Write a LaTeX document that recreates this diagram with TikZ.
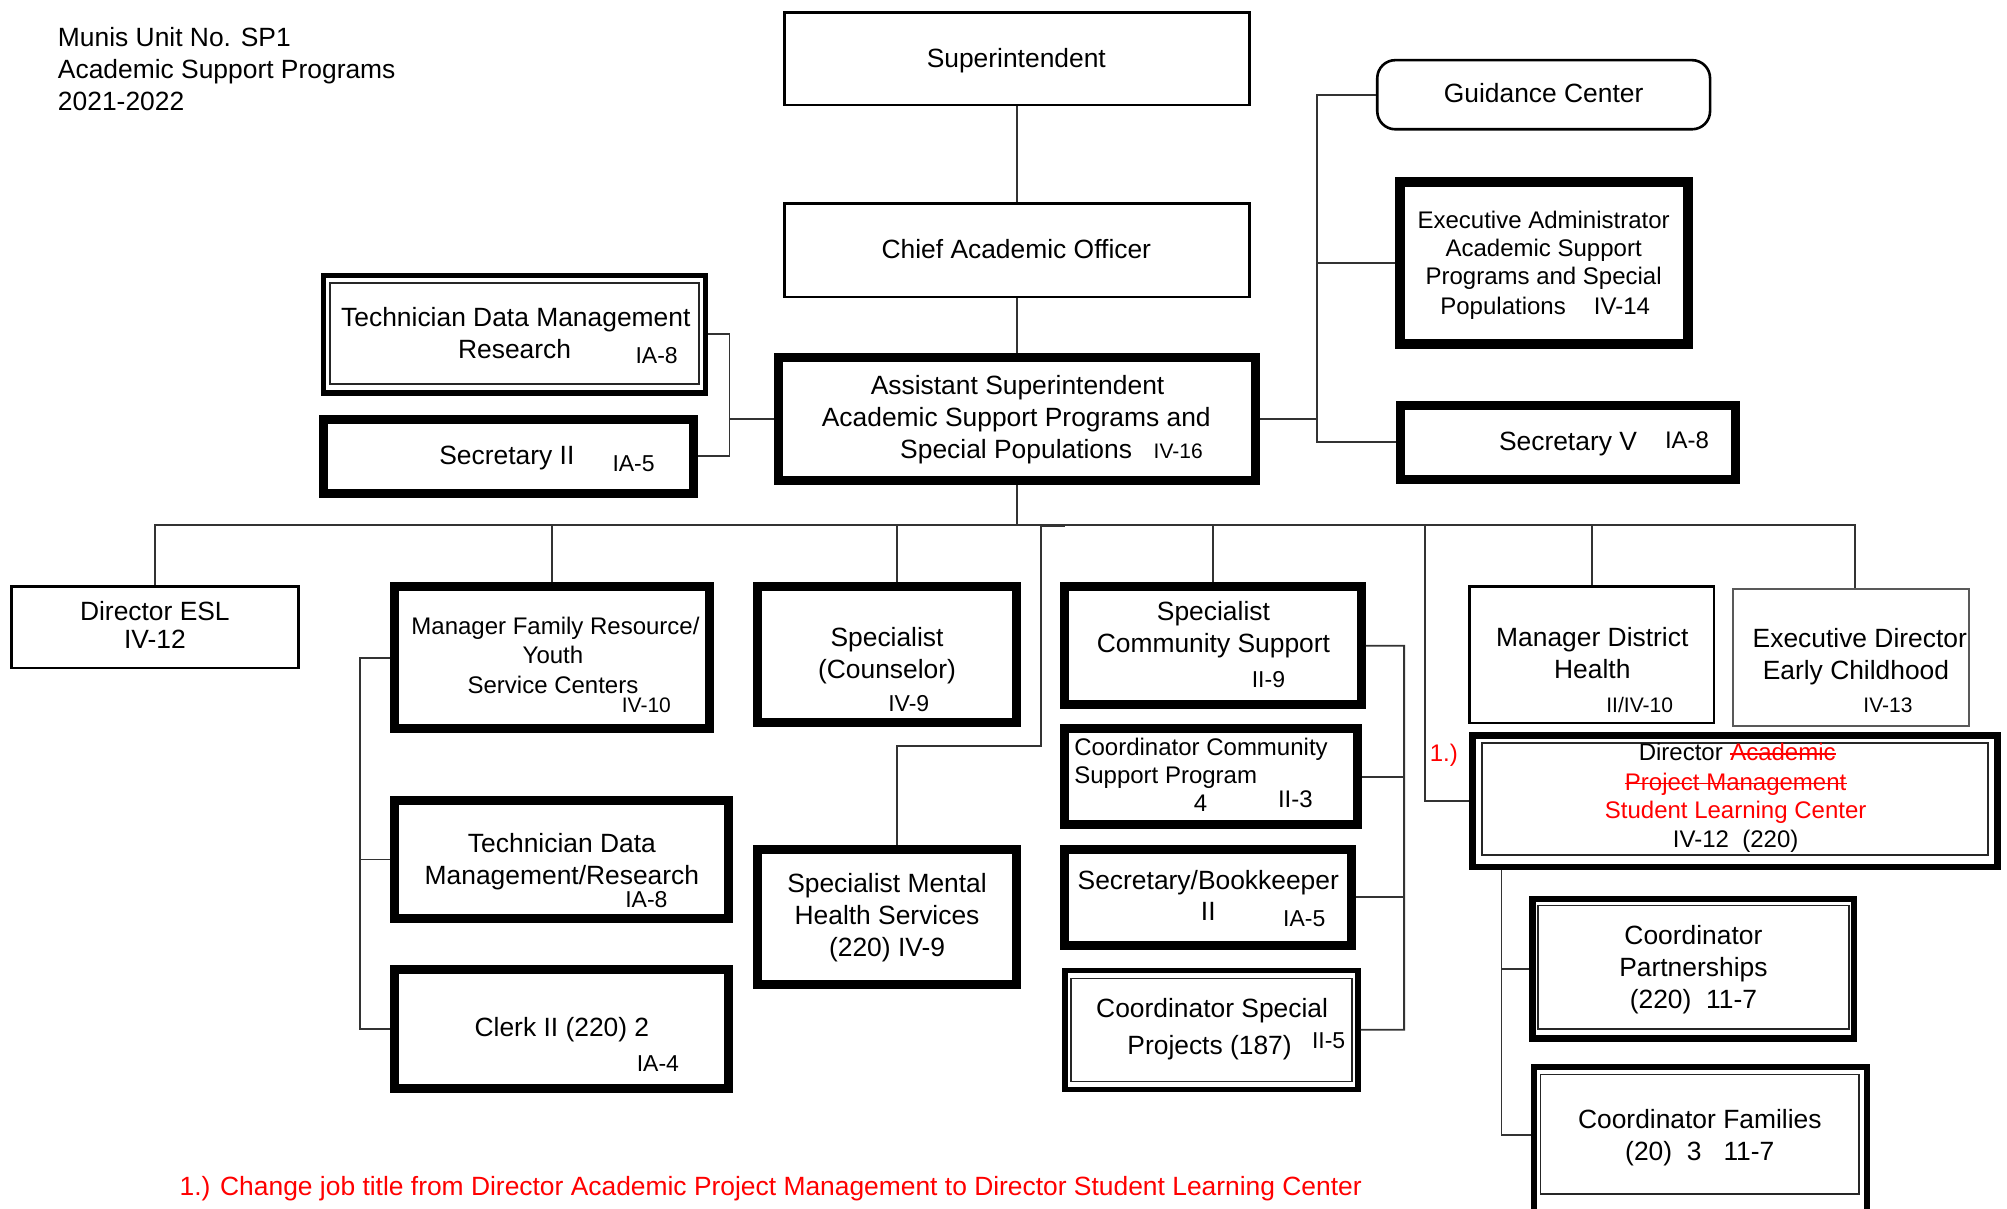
\documentclass[tikz,border=0pt]{standalone}
\usepackage{fontspec}
\setmainfont{Liberation Sans}
\usetikzlibrary{fit,calc}

\tikzset{
  box/.style={draw=black, inner sep=0pt, line width=1.3pt},
  heavy/.style={draw=black, inner sep=0pt, line width=4.5pt},
  heavier/.style={draw=black, inner sep=0pt, line width=5pt},
  midline/.style={draw=black, inner sep=0pt, line width=3.3pt},
  dbl/.style={draw=black, inner sep=0pt, line width=2.6pt},
  innerline/.style={draw=black!85, inner sep=0pt, line width=0.9pt},
  faint/.style={draw=black!65, inner sep=0pt, line width=1pt},
  link/.style={draw=black!80, line width=0.9pt},
  strike/.style={draw=red, line width=0.8pt},
  lbl/.style={anchor=base, inner sep=0pt, font=\fontsize{13.2}{16}\selectfont},
  lbls/.style={anchor=base, inner sep=0pt, font=\fontsize{12}{14}\selectfont},
  grade/.style={anchor=base, inner sep=0pt, font=\fontsize{11.5}{14}\selectfont},
  grades/.style={anchor=base, inner sep=0pt, font=\fontsize{10.5}{12}\selectfont},
  note/.style={text=red},
}
% box from two corner points of its border line
\newcommand\orgbox[6]{\node[#1, fit={(#3,#4) (#5,#6)}] (#2) {};}
% one line of text
\newcommand\say[5]{\node[#1] (#2) at (#3,#4) {#5};}
% line through a text node
\newcommand\strikeout[1]{\draw[strike] ($(#1.base west)+(0,-5.5)$) -- ($(#1.base east)+(0,-5.5)$);}

\begin{document}
\begin{tikzpicture}[x=0.64pt, y=-0.64pt]
\fill[white] (0,0) rectangle (1568,944);
\useasboundingbox (0,0) rectangle (1568,944);

% heading
\say{lbl, anchor=base west}{head1}{45}{36}{Munis Unit No. SP1}
\say{lbl, anchor=base west}{head2}{45}{61}{Academic Support Programs}
\say{lbl, anchor=base west}{head3}{45}{86}{2021-2022}

% ---------- boxes ----------
\orgbox{box}{sup}{613}{10}{976}{82}
\orgbox{box}{cao}{613}{159}{976}{232}
\orgbox{heavy}{asst}{608.5}{279.5}{980.5}{375.5}
\orgbox{dbl}{tdm}{253}{215}{551}{307}
\orgbox{innerline}{tdmIn}{258}{221}{546}{300}
\orgbox{heavy}{secii}{252.5}{327.5}{541.5}{385.5}
\node[box, rounded corners=9pt, fit={(1076,47) (1336,101)}] (guid) {};
\orgbox{heavier}{exa}{1094}{142}{1319}{269}
\orgbox{heavy}{secv}{1094.5}{316.5}{1355.5}{374.5}

\orgbox{box}{esl}{9}{458}{233}{522}
\orgbox{heavy}{mfr}{308.5}{458.5}{554.5}{569.5}
\orgbox{heavy}{cou}{591.5}{458.5}{794.5}{564.5}
\orgbox{heavy}{scs}{831.5}{458.5}{1063.5}{550.5}
\orgbox{box}{mdh}{1148}{458}{1339}{565}
\orgbox{faint}{edc}{1354}{460}{1538}{567}

\orgbox{heavy}{tdr}{308.5}{625.5}{569.5}{717.5}
\orgbox{heavy}{clk}{308.5}{757.5}{569.5}{850.5}
\orgbox{heavy}{smh}{591.5}{663.5}{794.5}{769.5}
\orgbox{heavy}{ccs}{831.5}{569.5}{1060.5}{644.5}
\orgbox{heavy}{sbk}{831.5}{663.5}{1055.5}{738.5}
\orgbox{dbl}{csp}{832}{758}{1061}{851}
\orgbox{innerline}{cspIn}{836.5}{764.5}{1056.5}{845}

\orgbox{midline}{slc}{1150.5}{574.5}{1560.5}{677.5}
\orgbox{innerline}{slcIn}{1158}{580.5}{1553}{668}
\orgbox{midline}{cpa}{1197.5}{702.5}{1448.5}{811.5}
\orgbox{innerline}{cpaIn}{1201.5}{707.5}{1444.5}{804}
\orgbox{midline}{cfa}{1198.5}{833.5}{1458.5}{950}
\orgbox{innerline}{cfaIn}{1203.5}{839.5}{1452.5}{933}

% ---------- connectors ----------
\coordinate (jL) at (570,327.5);
\coordinate (jR) at (1029,327.5);
\coordinate (bus) at (794.5,410);
\coordinate (mhK) at (813,583);
\coordinate (mhTop) at (832,411);
\coordinate (slcK) at (1113,410);
\coordinate (famBot) at (281,804);
\coordinate (comBot) at (1097,804.5);
\coordinate (slcBot) at (1173,887);

\draw[link] (sup) -- (cao);
\draw[link] (cao) -- (asst);
\draw[link] (asst.west) -- (jL);
\draw[link] (tdm.east) -| (jL) |- (secii.east);
\draw[link] (asst.east) -- (jR);
\draw[link] (guid.west) -| (jR) |- (secv.west);
\draw[link] (exa.west) -- (exa.west -| jR);

\draw[link] (asst) -- (bus);
\draw[link] (esl.north) |- (bus);
\draw[link] (mfr.north) |- (bus);
\draw[link] ($(cou.north)+(8,0)$) |- (bus);
\draw[link] ($(smh.north)+(8,0)$) |- (mhK) |- (mhTop);
\draw[link] (scs.north) |- (bus);
\draw[link] (slc.west) -| (slcK) -- (bus);
\draw[link] (mdh.north) |- (bus);
\draw[link] ($(edc.north)+(3,0)$) |- (bus);

\draw[link] (mfr.west) -| (famBot) -- (clk.west);
\draw[link] (tdr.west) -- (tdr.west -| famBot);
\draw[link] (scs.east) -| (comBot) -- (csp.east);
\draw[link] (ccs.east) -- (ccs.east -| comBot);
\draw[link] (sbk.east) -- (sbk.east -| comBot);
\draw[link] (slc.south -| slcBot) -- (slcBot) -- (slcBot -| cfa.west);
\draw[link] (cpa.west) -- (cpa.west -| slcBot);

% ---------- texts ----------
\say{lbl}{supT}{794}{53}{Superintendent}
\say{lbl}{caoT}{794}{202}{Chief Academic Officer}
\say{lbl}{asstT1}{795}{308}{Assistant Superintendent}
\say{lbl}{asstT2}{794}{333}{Academic Support Programs and}
\say{lbl, anchor=base west}{asstT3}{703}{358}{Special Populations}
\say{grades, anchor=base west}{asstG}{901}{358.5}{IV-16}

\say{lbl}{tdmT1}{403}{255}{Technician Data Management}
\say{lbl}{tdmT2}{402}{280}{Research}
\say{grade}{tdmG}{513}{284}{IA-8}
\say{lbl}{seciiT}{396}{363}{Secretary II}
\say{grade}{seciiG}{495}{368}{IA-5}

\say{lbl}{guidT}{1206}{80}{Guidance Center}
\say{lbls}{exaT1}{1206}{178.5}{Executive Administrator}
\say{lbls}{exaT2}{1206}{200.5}{Academic Support}
\say{lbls}{exaT3}{1206}{222.5}{Programs and Special}
\say{lbls, anchor=base west}{exaT4}{1125}{245.5}{Populations}
\say{lbls, anchor=base west}{exaG}{1245}{245.5}{IV-14}
\say{lbl}{secvT}{1225}{352}{Secretary V}
\say{lbls}{secvG}{1318}{350.5}{IA-8}

\say{lbl}{eslT1}{121}{485}{Director ESL}
\say{lbl}{eslT2}{121}{507}{IV-12}

\say{lbls}{mfrT1}{434}{495.5}{Manager Family Resource/}
\say{lbls}{mfrT2}{432}{518.5}{Youth}
\say{lbls}{mfrT3}{432}{541.5}{Service Centers}
\say{grades}{mfrG}{505}{556.5}{IV-10}

\say{lbl}{couT1}{693}{505}{Specialist}
\say{lbl}{couT2}{693}{530}{(Counselor)}
\say{grade}{couG}{710}{556}{IV-9}

\say{lbl}{scsT1}{948}{485}{Specialist}
\say{lbl}{scsT2}{948}{510}{Community Support}
\say{grade}{scsG}{991}{537}{II-9}

\say{lbl}{mdhT1}{1244}{505}{Manager District}
\say{lbl}{mdhT2}{1244}{530}{Health}
\say{grades}{mdhG}{1281}{556.5}{II/IV-10}

\say{lbl}{edcT1}{1453}{506}{Executive Director}
\say{lbl}{edcT2}{1450}{531}{Early Childhood}
\say{grades}{edcG}{1475}{556.5}{IV-13}

\say{lbl}{tdrT1}{439}{666}{Technician Data}
\say{lbl}{tdrT2}{439}{691}{Management/Research}
\say{grade}{tdrG}{505}{709}{IA-8}

\say{lbl}{clkT}{439}{810}{Clerk II (220) 2}
\say{grade}{clkG}{514}{837}{IA-4}

\say{lbl}{smhT1}{693}{697}{Specialist Mental}
\say{lbl}{smhT2}{693}{722}{Health Services}
\say{lbl}{smhT3}{693}{747}{(220) IV-9}

\say{lbls, anchor=base west}{ccsT1}{839}{590.5}{Coordinator Community}
\say{lbls, anchor=base west}{ccsT2}{839}{612.5}{Support Program}
\say{lbls}{ccsN}{938}{634}{4}
\say{lbls}{ccsG}{1012}{631}{II-3}

\say{lbl}{sbkT1}{944}{695}{Secretary/Bookkeeper}
\say{lbl}{sbkT2}{944}{719}{II}
\say{grade}{sbkG}{1019}{724}{IA-5}

\say{lbl}{cspT1}{947}{795}{Coordinator Special}
\say{lbl}{cspT2}{945}{824}{Projects (187)}
\say{grade}{cspG}{1038}{819}{II-5}

\say{lbls, note}{slcMark}{1128}{595}{1.)}
\say{lbls, anchor=base west}{slcDir}{1280}{594.5}{Director}
\node[lbls, note, anchor=base west] (slcAcad) at ($(slcDir.base east)+(5.2,0)$) {Academic};
\say{lbls, note}{slcT2}{1356}{617.5}{Project Management}
\say{lbls, note}{slcT3}{1356}{639.5}{Student Learning Center}
\say{lbls}{slcT4}{1356}{662.5}{IV-12\ \ (220)}
\strikeout{slcAcad}
\strikeout{slcT2}

\say{lbl}{cpaT1}{1323}{738}{Coordinator}
\say{lbl}{cpaT2}{1323}{763}{Partnerships}
\say{lbl}{cpaT3}{1323}{788}{(220)\ \ 11-7}

\say{lbl}{cfaT1}{1328}{882}{Coordinator Families}
\say{lbl}{cfaT2}{1328}{907}{(20)\ \ 3\ \ \ 11-7}

\say{lbl, note, anchor=base west}{foot}{140}{934}{1.) Change job title from Director Academic Project Management to Director Student Learning Center}
\end{tikzpicture}
\end{document}
